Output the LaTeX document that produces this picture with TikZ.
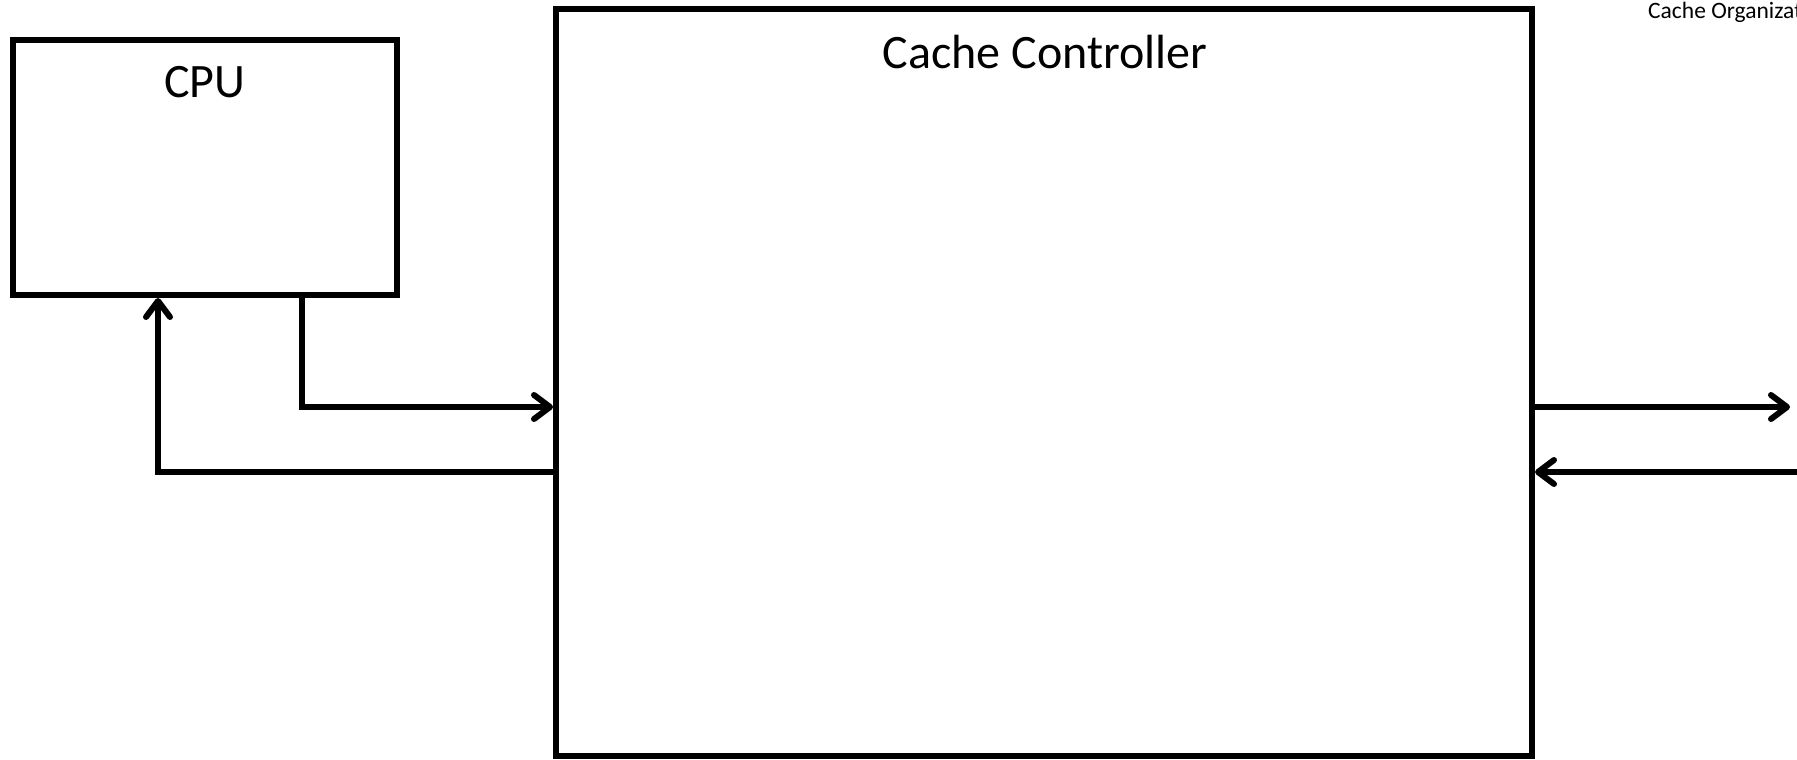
\documentclass[tikz,border=0pt]{standalone}
\usepackage{fontspec}
\setmainfont{Carlito}
\usetikzlibrary{arrows.meta}
\begin{document}
\begin{tikzpicture}[x=1pt,y=-1pt,
  box/.style={draw=black, line width=6pt, fill=white, inner sep=0pt},
  title/.style={font=\fontsize{48}{58}\selectfont, anchor=base, inner sep=0pt},
  conn/.style={draw=black, line width=6pt,
    -{Straight Barb[length=16pt, width=24pt, line cap=round, line join=round]}}]
  \useasboundingbox (0,0) rectangle (1797,760);
  \clip (0,0) rectangle (1797,760);

  % page heading, cut off at the right edge
  \node[font=\fontsize{23.5}{28}\selectfont, anchor=base west, inner sep=0pt] (heading)
    at (1648,19) {Cache Organization};

  % blocks
  \node[box, minimum width=384pt, minimum height=255pt] (cpu) at (205,167.5) {};
  \node[box, minimum width=976pt, minimum height=747pt] (cache) at (1044,382.5) {};
  \node[title] (cputext) at (205,98) {CPU};
  \node[title] (cachetext) at (1045,69) {Cache Controller};

  % routing points
  \coordinate (down) at (302,0);
  \coordinate (up) at (158,0);
  \coordinate (req) at (0,407);
  \coordinate (resp) at (0,472);
  \coordinate (memout) at (1790,407);
  \coordinate (memin) at (1797,472);

  % CPU -> cache controller
  \draw[conn] (down |- cpu.south) |- (cache.west |- req);
  % cache controller -> CPU
  \draw[conn] (cache.west |- resp) -| (up |- cpu.south);
  % cache controller <-> memory side
  \draw[conn] (cache.east |- memout) -- (memout);
  \draw[conn] (memin) -- (cache.east |- memin);
\end{tikzpicture}
\end{document}
